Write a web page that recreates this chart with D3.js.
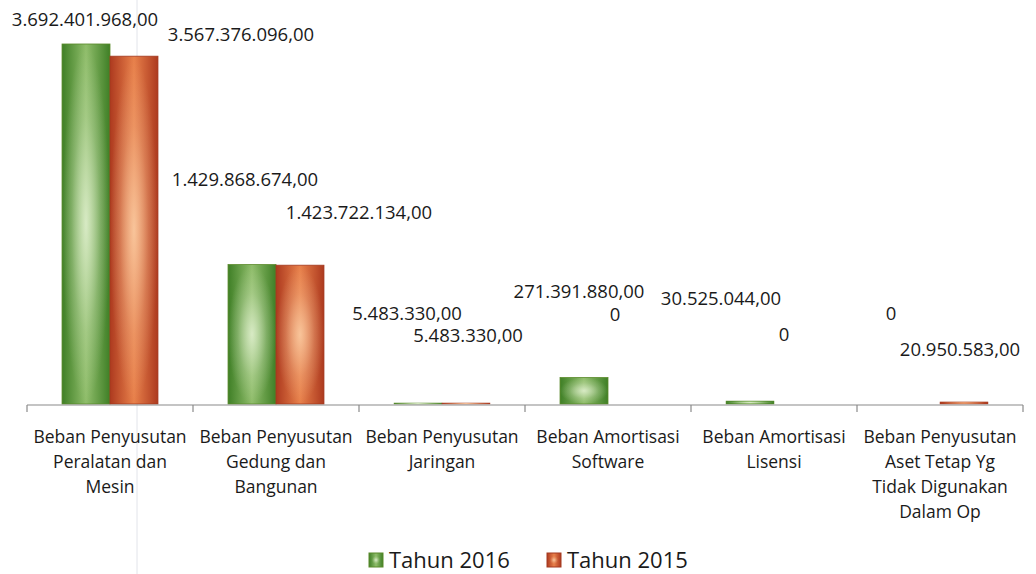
<!DOCTYPE html>
<html><head><meta charset="utf-8">
<script src="https://cdn.jsdelivr.net/npm/d3@7"></script>
<style>
html,body{margin:0;padding:0;background:#fff;}
svg{display:block;}
text{font-family:"Open Sans","DejaVu Sans",sans-serif;fill:#1a1a1a;}
</style></head>
<body>
<svg id="chart" width="1036" height="574"></svg>
<script>
const categories = [
  ["Beban Penyusutan","Peralatan dan","Mesin"],
  ["Beban Penyusutan","Gedung dan","Bangunan"],
  ["Beban Penyusutan","Jaringan"],
  ["Beban Amortisasi","Software"],
  ["Beban Amortisasi","Lisensi"],
  ["Beban Penyusutan","Aset Tetap Yg","Tidak Digunakan","Dalam Op"]
];
const seriesNames = ["Tahun 2016","Tahun 2015"];
const values2016 = [3692401968, 1429868674, 5483330, 271391880, 30525044, 0];
const values2015 = [3567376096, 1423722134, 5483330, 0, 0, 20950583];
const labels2016 = ["3.692.401.968,00","1.429.868.674,00","5.483.330,00","271.391.880,00","30.525.044,00","0"];
const labels2015 = ["3.567.376.096,00","1.423.722.134,00","5.483.330,00","0","0","20.950.583,00"];

// label layout (Excel's placement): [dx from bar centre, baseline y]
const labelLayout2016 = [[-1,26],[-7,186],[-11,320],[-5,298],[-29,305],[-25,320]];
const labelLayout2015 = [[107,41],[59,219],[2,342],[-17,321],[-14,341],[-4,356]];

const svg = d3.select("#chart");
const W = 1036, H = 574;
const margin = {left:27, right:13, top:14, bottom:170};
const x0 = d3.scaleBand().domain(d3.range(categories.length)).range([margin.left, W-margin.right]).paddingInner(0).paddingOuter(0);
const x1 = d3.scaleBand().domain([0,1]).range([0, x0.bandwidth()]).paddingOuter(0.73).paddingInner(0);
const y = d3.scaleLinear().domain([0, 4e9]).range([404, margin.top]);

const defs = svg.append("defs");
function makeGrad(id, edge, mid, light){
  const g = defs.append("linearGradient").attr("id", id+"H").attr("x1","0").attr("x2","1").attr("y1","0").attr("y2","0");
  g.append("stop").attr("offset","0").attr("stop-color",edge);
  g.append("stop").attr("offset","0.5").attr("stop-color",mid);
  g.append("stop").attr("offset","1").attr("stop-color",edge);
  const r = defs.append("radialGradient").attr("id", id+"R").attr("cx","0.5").attr("cy","0.5").attr("r","0.5");
  r.append("stop").attr("offset","0").attr("stop-color",light).attr("stop-opacity",0.85);
  r.append("stop").attr("offset","0.6").attr("stop-color",light).attr("stop-opacity",0.25);
  r.append("stop").attr("offset","1").attr("stop-color",light).attr("stop-opacity",0);
}
makeGrad("g", "#3f7f26", "#8fbd6a", "#e4f2d4");
makeGrad("r", "#ad3a1f", "#e8804a", "#fbd0a8");
const fills = ["g","r"];
const strokes = ["#5a8a2a","#a33a20"];

// faint scan line
svg.append("line").attr("x1",137).attr("x2",137).attr("y1",0).attr("y2",H)
  .attr("stroke","#e2e4ea").attr("stroke-width",1);

const series = [values2016, values2015];
series.forEach((vals, s) => {
  const g = svg.append("g");
  vals.forEach((v, i) => {
    if (v <= 0) return;
    const bx = x0(i) + x1(s), bw = x1.bandwidth();
    const bh = Math.max(y(0) - y(v), 1);
    const top = y(0) - bh;
    g.append("rect").attr("x",bx).attr("y",top).attr("width",bw).attr("height",bh)
      .attr("fill",`url(#${fills[s]}H)`).attr("stroke",strokes[s]).attr("stroke-width",bh > 3 ? 0.8 : 0.5);
    g.append("rect").attr("x",bx).attr("y",top).attr("width",bw).attr("height",bh)
      .attr("fill",`url(#${fills[s]}R)`);
  });
});

// axis
const axisY = 405;
svg.append("line").attr("x1",x0.range()[0]).attr("x2",x0.range()[1]).attr("y1",axisY).attr("y2",axisY)
  .attr("stroke","#8a8a8a").attr("stroke-width",1.2);
const tickXs = categories.map((d,i)=>x0(i)).concat([x0.range()[1]]);
svg.selectAll("line.tick").data(tickXs).enter().append("line")
  .attr("x1",d=>d).attr("x2",d=>d).attr("y1",axisY).attr("y2",axisY+7)
  .attr("stroke","#8a8a8a").attr("stroke-width",1.2);

// category labels
categories.forEach((lines, i) => {
  const t = svg.append("text").attr("text-anchor","middle").attr("font-size",17.5);
  lines.forEach((ln, k) => {
    t.append("tspan").attr("x", x0(i)+x0.bandwidth()/2).attr("y", 443 + k*25).text(ln);
  });
});

// data labels
[[labels2016,labelLayout2016],[labels2015,labelLayout2015]].forEach(([labs, lay], s) => {
  labs.forEach((l, i) => {
    const cx = x0(i) + x1(s) + x1.bandwidth()/2;
    svg.append("text").attr("x", cx + lay[i][0]).attr("y", lay[i][1])
      .attr("text-anchor","middle").attr("font-size",18.5).text(l);
  });
});

// legend
const legend = svg.append("g");
const legX = [369, 547];
seriesNames.forEach((n, s) => {
  legend.append("rect").attr("x",legX[s]).attr("y",553).attr("width",14).attr("height",14)
    .attr("fill",`url(#${fills[s]}H)`).attr("stroke",strokes[s]).attr("stroke-width",1);
  legend.append("rect").attr("x",legX[s]+3).attr("y",556).attr("width",8).attr("height",8)
    .attr("fill",`url(#${fills[s]}R)`);
  legend.append("text").attr("x",legX[s]+20).attr("y",568).attr("font-size",22).text(n);
});
</script>
</body></html>
